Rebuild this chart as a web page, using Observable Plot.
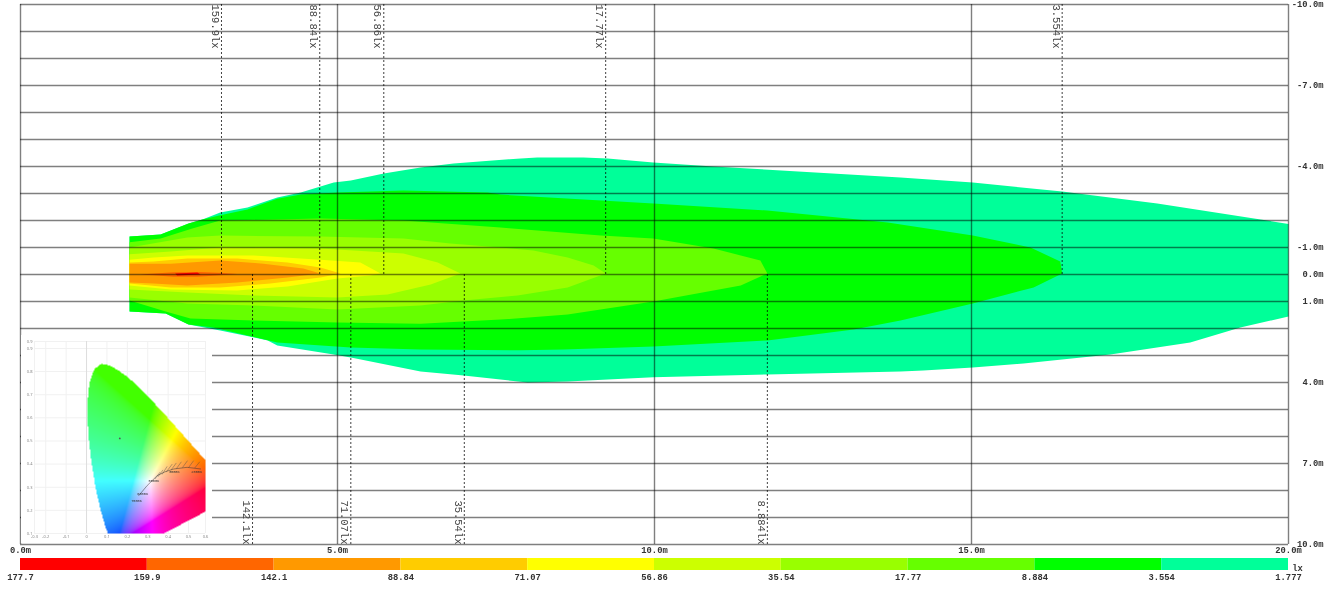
<!DOCTYPE html>
<html>
<head>
<meta charset="utf-8">
<script src="https://cdn.jsdelivr.net/npm/d3@7"></script>
<script src="https://cdn.jsdelivr.net/npm/@observablehq/plot@0.6"></script>
<style>
html,body{margin:0;padding:0;background:#fff}
#wrap{position:relative;width:1338px;height:590px;overflow:hidden;background:#fff;filter:blur(.35px)}
#wrap svg{display:block;background:transparent}
#inset{position:absolute;left:21px;top:335px;width:191px;height:208px;background:#fff}
</style>
</head>
<body>
<div id="wrap"><div id="main"></div><div id="legend"></div><div id="inset"></div></div>
<script>
// Iso-lux levels and their colours
const legendColors = ["#ff0000","#ff6600","#ff9900","#ffcc00","#ffff00","#ccff00","#99ff00","#66ff00","#00ff00","#00ff99"];
const legendLabels = ["177.7","159.9","142.1","88.84","71.07","56.86","35.54","17.77","8.884","3.554","1.777"];

// Contours in metres: [distance, lateral offset]
const contour1777 = [[1.72,-1.41],[2.21,-1.48],[2.65,-1.89],[2.87,-2.04],[3.15,-2.30],[3.58,-2.48],[4.05,-2.85],[4.42,-3.04],[4.94,-3.41],[5.21,-3.48],[5.73,-3.74],[6.31,-3.96],[6.83,-4.11],[7.89,-4.30],[8.15,-4.33],[8.88,-4.33],[9.26,-4.30],[9.98,-4.15],[10.93,-4.0],[13.88,-3.59],[15.02,-3.41],[16.43,-3.07],[17.93,-2.63],[19.56,-2.04],[20,-1.87],[20,1.56],[19.24,1.96],[18.45,2.52],[17.19,2.96],[15.82,3.30],[15.02,3.44],[14.24,3.56],[13.88,3.59],[11.78,3.70],[9.98,3.81],[8.63,3.96],[8.00,4.0],[7.57,3.89],[6.99,3.74],[6.31,3.59],[5.21,3.07],[4.94,2.96],[4.05,2.63],[3.90,2.44],[3.15,2.07],[2.65,1.85],[2.29,1.44],[1.72,1.37]];
const contour3554 = [[1.72,-1.41],[2.21,-1.48],[2.65,-1.89],[2.87,-2.04],[3.15,-2.19],[3.58,-2.41],[4.05,-2.81],[4.42,-2.96],[5.0,-3.04],[6.04,-3.11],[7.37,-3.04],[7.57,-2.96],[9.98,-2.63],[11.78,-2.37],[13.68,-1.93],[15.02,-1.44],[15.93,-1.0],[16.40,-0.48],[16.43,-0.04],[15.98,0.48],[15.02,1.07],[13.88,1.70],[13.14,2.04],[11.78,2.44],[9.98,2.67],[8.56,2.78],[7.89,2.81],[6.31,2.78],[5.21,2.70],[4.05,2.52],[3.04,1.96],[2.65,1.85],[2.29,1.44],[1.72,1.37]];
const contour8884 = [[1.72,-1.19],[2.21,-1.33],[2.71,-1.70],[3.15,-2.0],[4.73,-2.07],[6.04,-2.0],[7.57,-1.74],[9.15,-1.44],[9.98,-1.33],[10.93,-0.96],[11.67,-0.52],[11.78,-0.04],[11.36,0.41],[9.98,1.0],[8.63,1.48],[7.57,1.67],[6.31,1.82],[5.0,1.78],[3.68,1.70],[2.68,1.63],[2.29,1.37],[1.72,0.96]];
const contour1777b = [[1.72,-1.0],[2.63,-1.37],[3.15,-1.44],[4.73,-1.41],[6.04,-1.33],[6.78,-1.15],[7.57,-1.0],[8.09,-0.89],[8.63,-0.63],[9.04,-0.33],[9.23,-0.04],[8.63,0.48],[7.84,0.78],[6.99,0.96],[6.31,1.15],[5.0,1.30],[3.68,1.15],[2.63,1.07],[1.72,0.85]];
const contour3554b = [[1.72,-0.75],[2.37,-0.85],[3.15,-1.0],[4.73,-0.96],[6.04,-0.78],[6.58,-0.44],[6.94,-0.04],[6.47,0.37],[5.79,0.74],[5.0,0.85],[3.68,0.78],[2.63,0.67],[1.72,0.56]];
const contour5686 = [[1.72,-0.55],[2.10,-0.63],[2.63,-0.70],[3.68,-0.70],[4.73,-0.55],[5.36,-0.44],[5.68,-0.04],[5.52,0.04],[5.0,0.15],[4.21,0.44],[3.42,0.59],[2.37,0.56],[1.72,0.41]];
const contour7107 = [[1.72,-0.44],[2.10,-0.48],[2.63,-0.59],[3.42,-0.59],[4.21,-0.44],[4.73,-0.26],[5.05,-0.04],[4.73,0.11],[3.94,0.33],[3.15,0.48],[2.37,0.48],[1.72,0.33]];
const contour8884b = [[1.72,-0.40],[2.37,-0.40],[3.15,-0.52],[3.83,-0.40],[4.46,-0.22],[4.73,-0.04],[4.21,0.11],[3.42,0.30],[2.63,0.41],[2.10,0.33],[1.72,0.30]];
const contour1421 = [[1.89,0],[2.41,-0.08],[2.84,-0.09],[3.20,-0.06],[3.42,-0.02],[3.15,0.03],[2.79,0.08],[2.41,0.08],[2.10,0.03]];
const contour1599 = [[2.44,-0.04],[2.79,-0.07],[2.84,0],[2.47,0.04]];
const contours = [contour1777,contour3554,contour8884,contour1777b,contour3554b,contour5686,contour7107,contour8884b,contour1421,contour1599];
const contourColors = legendColors.slice().reverse();

// Annotated iso-lux crossings on the axis
const topNotes = [{x:3.17,t:"159.9lx"},{x:4.72,t:"88.84lx"},{x:5.73,t:"56.86lx"},{x:9.23,t:"17.77lx"},{x:16.43,t:"3.554lx"}];
const bottomNotes = [{x:3.66,t:"142.1lx"},{x:5.21,t:"71.07lx"},{x:7.0,t:"35.54lx"},{x:11.78,t:"8.884lx"}];

const xTicks = [0,5,10,15,20];
const yLabelled = [-10,-7,-4,-1,0,1,4,7,10];
const yGrid = d3.range(-10,11);

const mono = "'Liberation Mono','DejaVu Sans Mono',monospace";
const gridC = "#000", gridO = 0.5;

const main = Plot.plot({
  width:1338,height:556,marginLeft:20,marginRight:50,marginTop:4,marginBottom:12,
  style:{background:"transparent",overflow:"visible"},
  x:{domain:[0,20]},y:{domain:[10,-10],axis:null},
  marks:[
    ...contours.map((c,i)=>Plot.line(c,{fill:contourColors[i],stroke:"none"})),
    Plot.ruleY(yGrid,{stroke:gridC,strokeOpacity:gridO,strokeWidth:1.4}),
    Plot.ruleX(xTicks,{stroke:gridC,strokeOpacity:gridO,strokeWidth:1.4}),
    Plot.ruleX(topNotes,{x:"x",y1:()=>-10,y2:()=>0,stroke:"#000",strokeOpacity:0.75,strokeDasharray:"2,2"}),
    Plot.ruleX(bottomNotes,{x:"x",y1:()=>0,y2:()=>10,stroke:"#000",strokeOpacity:0.75,strokeDasharray:"2,2"}),
    Plot.text(topNotes,{x:"x",y:()=>-10,text:"t",rotate:90,textAnchor:"start",dx:-6,fontFamily:mono,fontSize:10.5,fill:"#444"}),
    Plot.text(bottomNotes,{x:"x",y:()=>10,text:"t",rotate:90,textAnchor:"end",dx:-6,fontFamily:mono,fontSize:10.5,fill:"#444"}),
    Plot.text(yLabelled,{x:()=>20,y:d=>d,text:d=>d.toFixed(1)+"m",dx:35,textAnchor:"end",fontFamily:mono,fontWeight:"bold",fontSize:8.8,fill:"#333"}),
    Plot.axisX(xTicks,{anchor:"bottom",tickSize:0,tickPadding:2,tickFormat:d=>d.toFixed(1)+"m",fontFamily:mono,fontWeight:"bold",fontSize:8.8,fill:"#333",label:null})
  ]
});
document.getElementById("main").appendChild(main);

const legend = Plot.plot({
  width:1338,height:34,marginLeft:20,marginRight:50,marginTop:2,marginBottom:20,
  style:{background:"transparent",overflow:"visible"},
  x:{domain:[0,10]},
  marks:[
    Plot.rectX(legendColors,{x1:(d,i)=>i,x2:(d,i)=>i+1,fill:d=>d}),
    Plot.axisX(d3.range(0,11),{anchor:"bottom",tickSize:0,tickPadding:3,tickFormat:d=>legendLabels[d],fontFamily:mono,fontWeight:"bold",fontSize:8.8,fill:"#333",label:null}),
    Plot.text(["lx"],{x:()=>10,frameAnchor:"middle",dx:9,dy:4,textAnchor:"middle",fontFamily:mono,fontWeight:"bold",fontSize:8.8,fill:"#333"})
  ]
});
document.getElementById("legend").appendChild(legend);

// Inset: CIE 1931 chromaticity diagram
const cieOutline = [[.106,.1],[.091,.133],[.069,.201],[.045,.295],[.023,.413],[.008,.538],[.0039,.6548],[.0139,.7502],[.0389,.812],[.0743,.8338],[.1142,.8262],[.1547,.8059],[.1929,.7816],[.2296,.7543],[.3016,.6923],[.3731,.6245],[.4441,.5547],[.5125,.4866],[.5752,.4242],[.583,.416],[.583,.1946],[.379,.1]];
const cieXTicks = [-.255,-.2,-.1,0,.1,.2,.3,.4,.5,.583];
const cieYTicks = [.1,.2,.3,.4,.5,.6,.7,.8,.9,.93];
const blackbody = [[.256,.264],[.297,.307],[.346,.350],[.385,.367],[.428,.379],[.493,.386],[.559,.379]];
const isoTicks = [[.335,.335,.36,.365],[.35,.345,.375,.375],[.37,.355,.395,.39],[.39,.365,.42,.40],[.415,.375,.44,.405],[.44,.38,.465,.41],[.47,.385,.495,.415],[.50,.385,.525,.415],[.53,.383,.555,.41]];
const bbLabels = [{x:.245,y:.243,t:"7500K"},{x:.275,y:.272,t:"6500K"},{x:.33,y:.327,t:"5000K"},{x:.43,y:.368,t:"3000K"},{x:.54,y:.365,t:"2000K"}];
const sourcePoint = [[.163,.511]];

function xyToRgb(x,y){
  const X=x/y, Z=(1-x-y)/y;
  const lin=[3.2406*X-1.5372-0.4986*Z,-0.9689*X+1.8758+0.0415*Z,0.0557*X-0.2040+1.0570*Z].map(v=>Math.max(v,0));
  const m=Math.max(...lin);
  const c=lin.map(v=>{const t=v/m;return Math.round(255*(t<=.0031308?12.92*t:1.055*Math.pow(t,1/2.4)-.055));});
  const r=Math.max(c[0],.26*c[1]);
  const k=c[2]/255;
  const b=c[2]*(.75+.25*k*k);
  return `rgb(${Math.round(r)},${c[1]},${Math.round(b)})`;
}
const inset = Plot.plot({
  width:191,height:208,marginLeft:13,marginRight:7,marginTop:6,marginBottom:10,
  style:{background:"transparent",overflow:"visible"},
  x:{domain:[-.255,.583]},y:{domain:[.1,.93]},
  color:{type:"identity"},
  marks:[
    Plot.ruleX(cieXTicks,{stroke:"#f1f1f1"}),
    Plot.ruleY(cieYTicks,{stroke:"#f1f1f1"}),
    Plot.ruleX([0],{stroke:"#dddddd"}),
    Plot.raster({x1:-.255,x2:.583,y1:.1,y2:.93,pixelSize:1,fill:(x,y)=>d3.polygonContains(cieOutline,[x,y])?xyToRgb(x,y):null}),
    Plot.line(blackbody,{stroke:"#333",strokeWidth:.5}),
    Plot.link(isoTicks,{x1:"0",y1:"1",x2:"2",y2:"3",stroke:"#444",strokeWidth:.4}),
    Plot.text(bbLabels,{x:"x",y:"y",text:"t",fontSize:3.6,fill:"#333",fontFamily:mono}),
    Plot.dot(sourcePoint,{r:.9,fill:"#555"}),
    Plot.axisX(cieXTicks,{tickSize:0,tickPadding:2,tickFormat:d=>d.toFixed(1).replace(/^0\.0$/,"0"),fontSize:4,fill:"#888",label:null}),
    Plot.axisY(cieYTicks,{tickSize:0,tickPadding:2,tickFormat:d=>d.toFixed(1),fontSize:4,fill:"#888",label:null})
  ]
});
document.getElementById("inset").appendChild(inset);
</script>
</body>
</html>
